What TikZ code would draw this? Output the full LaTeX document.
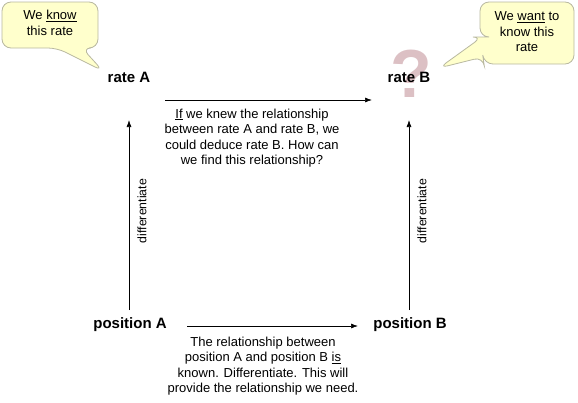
\documentclass[tikz,border=0pt]{standalone}
\usepackage{fontspec}
\setmainfont{Liberation Sans}
\usetikzlibrary{arrows.meta}
\definecolor{callfill}{HTML}{FFFFCC}
\definecolor{calldraw}{HTML}{B8B8A0}
\definecolor{qmark}{HTML}{DCC0C4}
\begin{document}
\begin{tikzpicture}[x=1pt,y=-1pt,
  lbl/.style={font=\fontsize{15}{17}\selectfont\bfseries, inner sep=1pt},
  txt/.style={font=\fontsize{13}{15.5}\selectfont, align=center, inner sep=0pt},
  small/.style={font=\fontsize{12.3}{13}\selectfont, inner sep=0pt},
  arr/.style={-{Latex[length=7pt,width=5pt]}, line width=0.7pt},
  call/.style={fill=callfill, draw=calldraw, line width=0.8pt, rounded corners=9pt}]
\useasboundingbox (0,0) rectangle (578,402);
% question mark
\node[text=qmark, font=\fontsize{68}{68}\selectfont\bfseries, inner sep=0pt] (q) at (411,74) {?};
% callouts
\draw[call] (2,2) -- (98,2) -- (98,48) -- (82,48) -- (103,71) -- (57,48) -- (2,48) -- cycle;
\node[txt] (ca) at (50,23) {We \underline{know}\\this rate};
\draw[call] (480,2) -- (574,2) -- (574,64) -- (484,64) -- (483,57) -- (439,68) -- (482,37) -- (480,37) -- cycle;
\node[txt] (cb) at (527,32) {We \underline{want} to\\know this\\rate};
% nodes
\node[lbl] (ra) at (129,77) {rate A};
\node[lbl] (rb) at (409,77) {rate B};
\node[lbl] (pa) at (130,325) {position A};
\node[lbl] (pb) at (410,325) {position B};
% arrows
\coordinate (t1) at (165,100);
\coordinate (t2) at (372,100);
\draw[arr] (t1) -- (t2);
\coordinate (b1) at (187,326);
\coordinate (b2) at (358,326);
\draw[arr] (b1) -- (b2);
\coordinate (a1) at (129,310);
\coordinate (a2) at (129,120);
\coordinate (c1) at (409,310);
\coordinate (c2) at (409,120);
\draw[arr] (a1) -- (a2);
\draw[arr] (c1) -- (c2);
\node[small, rotate=90] (d1) at (142,211) {differentiate};
\node[small, rotate=90] (d2) at (422,211) {differentiate};
% texts
\node[txt] (tt) at (252,138) {\underline{If} we knew the relationship\\between rate A and rate B, we\\could deduce rate B. How can\\we find this relationship?};
\node[txt] (bt) at (263,366) {The relationship between\\position A and position B \underline{is}\\known. Differentiate. This will\\provide the relationship we need.};
\end{tikzpicture}
\end{document}
